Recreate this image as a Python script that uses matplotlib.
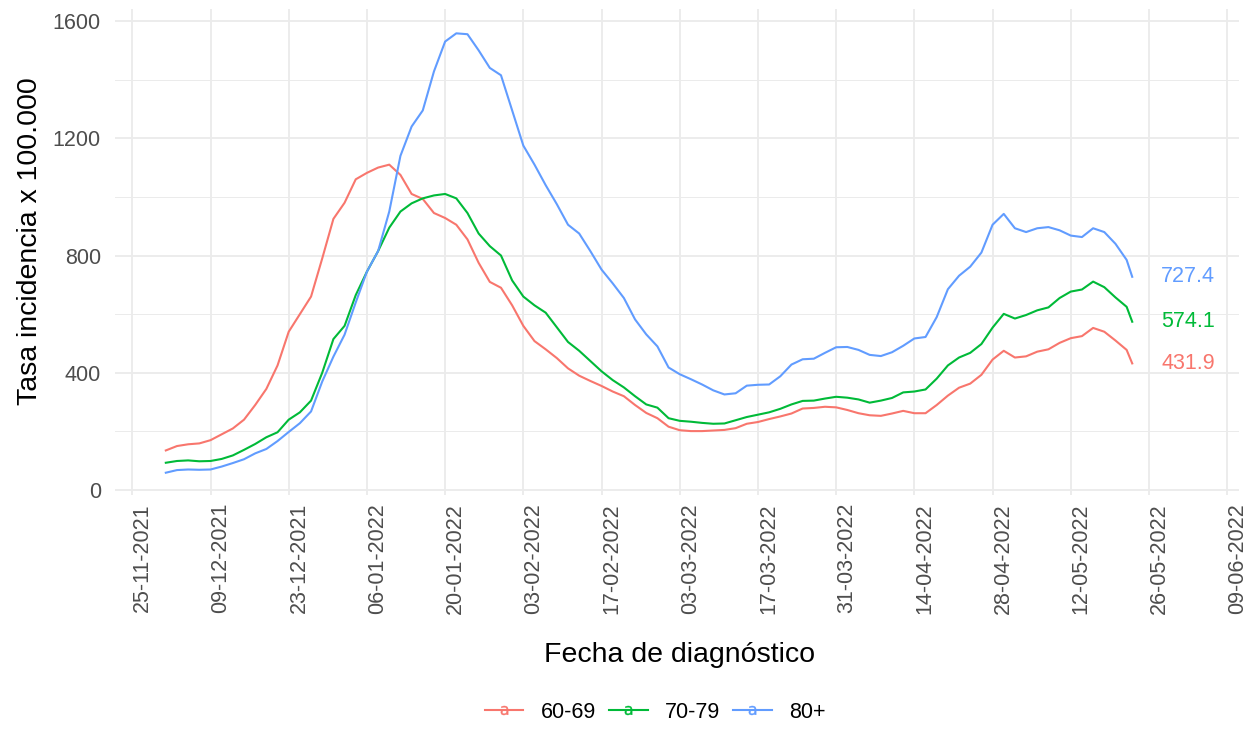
import matplotlib
matplotlib.use("Agg")
import matplotlib.pyplot as plt
import matplotlib.dates as mdates
from matplotlib.lines import Line2D
from matplotlib.ticker import MultipleLocator, FixedLocator
import pandas as pd

plt.rcParams["font.family"] = ["Liberation Sans", "DejaVu Sans"]

# ---------------- data ----------------
dates = list(pd.date_range("2021-12-01", "2022-05-22", freq="2D")) + [pd.Timestamp("2022-05-23")]

group_names = ["60-69", "70-79", "80+"]

rate_60_69 = [135, 150, 156, 159, 170, 190, 210, 240, 290, 345,
              425, 540, 600, 660, 790, 925, 980, 1060, 1082, 1100,
              1110, 1075, 1010, 993, 945, 928, 905, 855, 775, 710,
              690, 630, 560, 508, 480, 450, 415, 390, 372, 355,
              336, 320, 290, 263, 245, 216, 204, 201, 201, 203,
              205, 211, 226, 232, 242, 251, 261, 278, 280, 284,
              282, 273, 262, 255, 253, 261, 270, 262, 262, 290,
              322, 349, 363, 393, 445, 475, 452, 456, 472, 480,
              502, 518, 525, 553, 540, 510, 478, 431.9]

rate_70_79 = [93, 99, 101, 98, 99, 106, 118, 137, 157, 180,
              197, 240, 265, 305, 400, 515, 560, 665, 745, 815,
              895, 950, 978, 995, 1005, 1010, 995, 945, 875, 832,
              800, 715, 660, 630, 605, 555, 505, 475, 440, 405,
              375, 350, 320, 292, 281, 245, 236, 233, 229, 226,
              227, 238, 249, 257, 265, 277, 292, 304, 305, 312,
              318, 315, 309, 298, 305, 314, 333, 336, 343, 380,
              425, 452, 468, 498, 554, 601, 585, 597, 613, 623,
              655, 677, 684, 711, 692, 657, 625, 574.1]

rate_80_plus = [59, 68, 70, 69, 70, 80, 92, 105, 125, 140,
                167, 198, 228, 268, 370, 455, 530, 640, 745, 815,
                950, 1140, 1240, 1295, 1428, 1530, 1558, 1555, 1500, 1440,
                1415, 1295, 1175, 1110, 1040, 975, 905, 875, 815, 752,
                705, 655, 582, 531, 490, 418, 395, 378, 360, 340,
                326, 330, 356, 359, 360, 388, 428, 446, 448, 468,
                487, 488, 478, 461, 457, 470, 492, 517, 522, 590,
                685, 731, 762, 810, 905, 942, 893, 880, 893, 897,
                886, 868, 863, 893, 880, 840, 785, 727.4]

series = [rate_60_69, rate_70_79, rate_80_plus]
colors = ["#F8766D", "#00BA38", "#619CFF"]

tick_dates = pd.date_range("2021-11-25", "2022-06-09", freq="14D")
y_major = [0, 400, 800, 1200, 1600]
y_minor = [200, 600, 1000, 1400]

# ---------------- figure ----------------
W, H = 1257, 747
fig = plt.figure(figsize=(W / 100, H / 100), dpi=100)
left, right = 114.7 / W, 1239.2 / W
top, bottom = 9.3 / H, 494.7 / H
ax = fig.add_axes([left, 1 - bottom, right - left, bottom - top])

for vals, col in zip(series, colors):
    ax.plot(dates, vals, color=col, lw=1.5, solid_joinstyle="round", zorder=3)

# end labels
label_date = dates[-1] + pd.Timedelta(days=10)
for vals, col in zip(series, colors):
    ax.text(mdates.date2num(label_date), vals[-1], f"{vals[-1]:.1f}",
            color=col, ha="center", va="center", fontsize=15.5, zorder=4)

x0 = pd.Timestamp("2021-11-25")
ax.set_xlim(mdates.date2num(x0 - pd.Timedelta(days=3.15)),
            mdates.date2num(x0 + pd.Timedelta(days=198.15)))
ax.set_ylim(-16, 1640)

ax.xaxis.set_major_locator(FixedLocator(mdates.date2num(tick_dates)))
ax.set_xticklabels([d.strftime("%d-%m-%Y") for d in tick_dates],
                   rotation=90, ha="left", va="top")
ax.yaxis.set_major_locator(FixedLocator(y_major))
ax.yaxis.set_minor_locator(FixedLocator(y_minor))
ax.set_yticklabels([str(v) for v in y_major])

ax.tick_params(axis="both", which="both", length=0, labelsize=15.5,
               labelcolor="#4D4D4D")
ax.tick_params(axis="x", pad=6)
ax.tick_params(axis="y", pad=10)

ax.grid(which="major", color="#EBEBEB", lw=1.3, zorder=0)
ax.grid(which="minor", axis="y", color="#EBEBEB", lw=0.7, zorder=0)
ax.set_axisbelow(True)
for s in ax.spines.values():
    s.set_visible(False)

ax.set_xlabel("Fecha de diagnóstico", fontsize=20.5, color="black")
ax.xaxis.set_label_coords((680 - 114.7) / (1239.2 - 114.7),
                          (494.7 - 655) / (494.7 - 9.3))
ax.xaxis.label.set_va("center")
ax.set_ylabel("Tasa incidencia x 100.000", fontsize=20.5, color="black")
ax.yaxis.label.set_va("center")
ax.yaxis.set_label_coords((30 - 114.7) / (1239.2 - 114.7),
                          (494.7 - 241) / (494.7 - 9.3))

handles = [Line2D([], [], color=c, lw=1.5, marker=r"$\mathrm{a}$",
                  markersize=6.5, markeredgewidth=0.3) for c in colors]
fig.legend(handles, group_names, loc="center", ncol=3,
           bbox_to_anchor=(655 / W, 1 - 712 / H), frameon=False,
           fontsize=15.5, handlelength=1.8, handletextpad=0.8,
           columnspacing=0.6)

fig.savefig("out.png", dpi=100)
